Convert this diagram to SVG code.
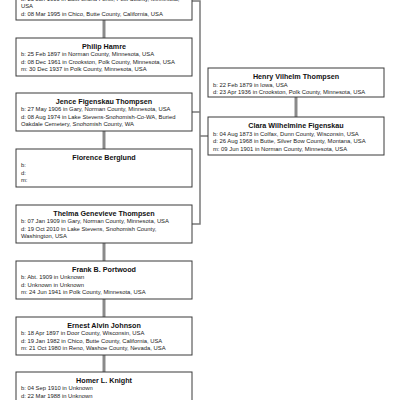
<svg xmlns="http://www.w3.org/2000/svg" width="400" height="400" viewBox="0 0 400 400">
<style>
.box{fill:#fff;stroke:#3a3a3a;stroke-width:1}
.t{font-family:"Liberation Sans",Arial,sans-serif;font-size:7.2px;font-weight:bold;fill:#111;text-anchor:middle}
.d{font-family:"Liberation Sans",Arial,sans-serif;font-size:5.85px;fill:#222}
.cp{stroke:#8a8a8a;stroke-width:3;fill:none}
.br{stroke:#7a7a7a;stroke-width:1.5;fill:none}
</style>
<rect width="400" height="400" fill="#fff"/>
<g id="connectors">
<line class="cp" x1="104" y1="20" x2="104" y2="38"/>
<line class="cp" x1="104" y1="131" x2="104" y2="149"/>
<line class="cp" x1="104" y1="243" x2="104" y2="261"/>
<line class="cp" x1="104" y1="299" x2="104" y2="317"/>
<line class="cp" x1="104" y1="355" x2="104" y2="372"/>
<line class="cp" x1="296" y1="97" x2="296" y2="117"/>
<polyline class="br" points="192,1 200,1 200,224 192,224"/>
<line class="br" x1="192" y1="112" x2="200" y2="112"/>
<line class="br" x1="200" y1="136" x2="208" y2="136"/>
</g>
<g id="n1">
<rect class="box" x="16" y="-18" width="176" height="38"/>
<text class="d" x="21" y="1">b: 23 Jan 1900 in East Grand Forks, Polk County, Minnesota,</text>
<text class="d" x="21" y="8">USA</text>
<text class="d" x="21" y="15.5">d: 08 Mar 1995 in Chico, Butte County, California, USA</text>
</g>
<g id="n2">
<rect class="box" x="16" y="38" width="176" height="38"/>
<text class="t" x="104" y="48.5">Philip Hamre</text>
<text class="d" x="21" y="56">b: 25 Feb 1897 in Norman County, Minnesota, USA</text>
<text class="d" x="21" y="63.5">d: 08 Dec 1961 in Crookston, Polk County, Minnesota, USA</text>
<text class="d" x="21" y="71">m: 30 Dec 1937 in Polk County, Minnesota, USA</text>
</g>
<g id="n3">
<rect class="box" x="16" y="93" width="176" height="38"/>
<text class="t" x="104" y="103.5">Jence Figenskau Thompsen</text>
<text class="d" x="21" y="111">b: 27 May 1906 in Gary, Norman County, Minnesota, USA</text>
<text class="d" x="21" y="118.5">d: 08 Aug 1974 in Lake Stevens-Snohomish-Co-WA, Buried</text>
<text class="d" x="21" y="126">Oakdale Cemetery, Snohomish County, WA</text>
</g>
<g id="n4">
<rect class="box" x="16" y="149" width="176" height="38"/>
<text class="t" x="104" y="159.5">Florence Berglund</text>
<text class="d" x="21" y="167">b:</text>
<text class="d" x="21" y="174.5">d:</text>
<text class="d" x="21" y="182">m:</text>
</g>
<g id="n5">
<rect class="box" x="16" y="205" width="176" height="38"/>
<text class="t" x="104" y="215.5">Thelma Genevieve Thompsen</text>
<text class="d" x="21" y="223">b: 07 Jan 1909 in Gary, Norman County, Minnesota, USA</text>
<text class="d" x="21" y="230.5">d: 19 Oct 2010 in Lake Stevens, Snohomish County,</text>
<text class="d" x="21" y="238">Washington, USA</text>
</g>
<g id="n6">
<rect class="box" x="16" y="261" width="176" height="38"/>
<text class="t" x="104" y="271.5">Frank B. Portwood</text>
<text class="d" x="21" y="279">b: Abt. 1909 in Unknown</text>
<text class="d" x="21" y="286.5">d: Unknown in Unknown</text>
<text class="d" x="21" y="294">m: 24 Jun 1941 in Polk County, Minnesota, USA</text>
</g>
<g id="n7">
<rect class="box" x="16" y="317" width="176" height="38"/>
<text class="t" x="104" y="327.5">Ernest Alvin Johnson</text>
<text class="d" x="21" y="335">b: 18 Apr 1897 in Door County, Wisconsin, USA</text>
<text class="d" x="21" y="342.5">d: 19 Jan 1982 in Chico, Butte County, California, USA</text>
<text class="d" x="21" y="350">m: 21 Oct 1980 in Reno, Washoe County, Nevada, USA</text>
</g>
<g id="n8">
<rect class="box" x="16" y="372" width="176" height="38"/>
<text class="t" x="104" y="382.5">Homer L. Knight</text>
<text class="d" x="21" y="390">b: 04 Sep 1910 in Unknown</text>
<text class="d" x="21" y="397.5">d: 22 Mar 1988 in Unknown</text>
</g>
<g id="n9">
<rect class="box" x="208" y="68" width="176" height="29"/>
<text class="t" x="296" y="78.5">Henry Vilhelm Thompsen</text>
<text class="d" x="213" y="86.5">b: 22 Feb 1879 in Iowa, USA</text>
<text class="d" x="213" y="94">d: 23 Apr 1936 in Crookston, Polk County, Minnesota, USA</text>
</g>
<g id="n10">
<rect class="box" x="208" y="117" width="176" height="38"/>
<text class="t" x="296" y="127.5">Clara Wilhelmine Figenskau</text>
<text class="d" x="213" y="135.5">b: 04 Aug 1873 in Colfax, Dunn County, Wisconsin, USA</text>
<text class="d" x="213" y="143">d: 26 Aug 1968 in Butte, Silver Bow County, Montana, USA</text>
<text class="d" x="213" y="150.5">m: 09 Jun 1901 in Norman County, Minnesota, USA</text>
</g>
</svg>
